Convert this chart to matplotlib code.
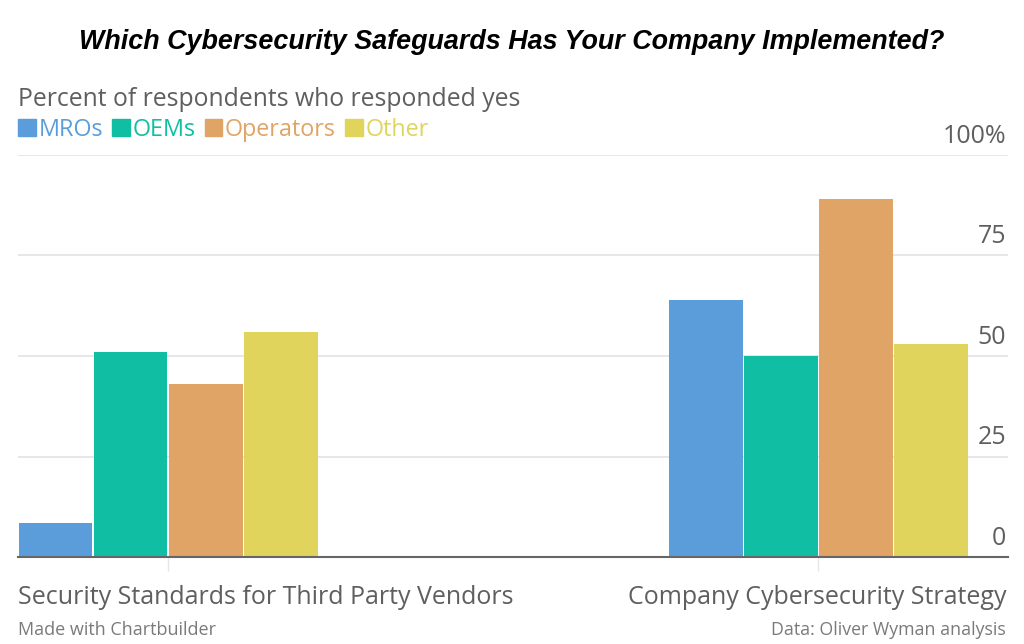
import matplotlib.pyplot as plt
from matplotlib.patches import Patch
import numpy as np

categorias = ['Security Standards for Third Party Vendors', 'Company Cybersecurity Strategy']
grupos = ['MROs', 'OEMs', 'Operators', 'Other']
mros = [8.5, 64]
oems = [51, 50]
operators = [43, 89]
other = [56, 53]
cores = ['#5b9ddb', '#10bfa3', '#e0a466', '#e0d45c']
yticks = [0, 25, 50, 75, 100]
ytick_labels = ['0', '25', '50', '75', '100%']

fonte = 'Open Sans'
cinza = '#5f5f5f'


def grafico():
    fig = plt.figure(figsize=(10.24, 6.44), dpi=100)
    ax = fig.add_axes([18 / 1024, 1 - 557 / 644, 990 / 1024, 402 / 644])

    x = np.arange(len(categorias))
    largura = 0.1154
    series = [mros, oems, operators, other]
    for i, (serie, cor, nome) in enumerate(zip(series, cores, grupos)):
        ax.bar(x + (i - 1.5) * largura, serie, largura * 0.985, color=cor,
               label=nome, zorder=3)

    ax.set_xlim(-0.2308, 1.292)
    ax.set_ylim(0, 100)
    for s in ['top', 'left', 'right']:
        ax.spines[s].set_visible(False)
    ax.spines['bottom'].set_color('#666666')
    ax.spines['bottom'].set_linewidth(1.5)
    ax.spines['bottom'].set_zorder(4)

    ax.set_yticks(yticks)
    ax.set_yticklabels([])
    ax.tick_params(axis='y', length=0)
    ax.grid(axis='y', color='#e3e3e3', linewidth=1.2, zorder=0)
    for v, lab in zip(yticks, ytick_labels):
        ax.text(1.292 - 0.003, v + 1.5, lab, ha='right', va='bottom', fontsize=18,
                color=cinza, family=fonte)

    ax.set_xticks(x)
    ax.set_xticklabels([])
    ax.tick_params(axis='x', length=10, color='#e6e6e6', width=1, pad=0)

    fig.text(18 / 1024, 1 - 597 / 644, categorias[0], ha='left', va='center',
             fontsize=18, color=cinza, family=fonte)
    fig.text(1006 / 1024, 1 - 597 / 644, categorias[1], ha='right', va='center',
             fontsize=18, color=cinza, family=fonte)

    fig.text(0.5, 1 - 42 / 644, 'Which Cybersecurity Safeguards Has Your Company Implemented?',
             ha='center', va='center', fontsize=19.4, fontweight='bold', fontstyle='italic',
             family='Liberation Sans', color='#000000')
    fig.text(18 / 1024, 1 - 100 / 644, 'Percent of respondents who responded yes',
             ha='left', va='center', fontsize=17.8, color=cinza, family=fonte)

    handles = [Patch(color=c) for c in cores]
    fig.legend(handles, grupos, loc='center left', bbox_to_anchor=(18 / 1024, 1 - 130 / 644),
               ncol=4, frameon=False, handlelength=0.75, handleheight=0.75,
               handletextpad=0.12, columnspacing=0.4, labelcolor=cores,
               borderpad=0, borderaxespad=0,
               prop={'family': fonte, 'size': 16.8})

    fig.text(18 / 1024, 1 - 630 / 644, 'Made with Chartbuilder', ha='left', va='center',
             fontsize=13, color='#7a7a7a', family=fonte)
    fig.text(1006 / 1024, 1 - 630 / 644, 'Data: Oliver Wyman analysis', ha='right', va='center',
             fontsize=12.8, color='#7a7a7a', family=fonte)

    fig.savefig('out.png', dpi=100)


def main():
    grafico()


if __name__ == "__main__":
    main()
